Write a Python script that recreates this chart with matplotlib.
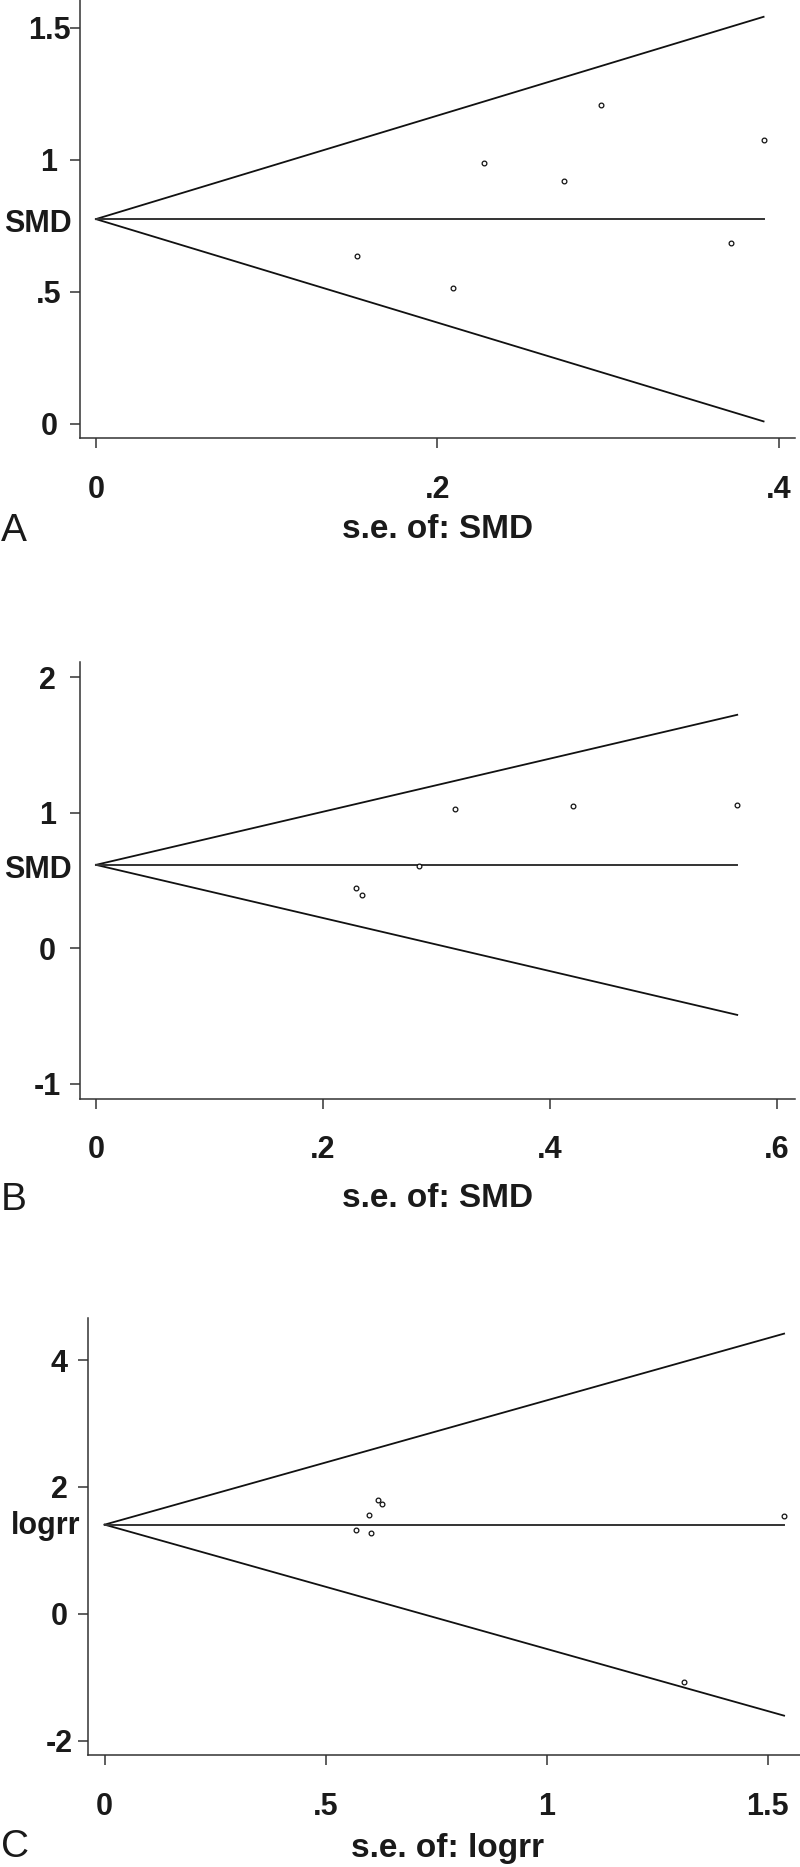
import matplotlib
matplotlib.use("Agg")
import matplotlib.pyplot as plt
import numpy as np

plt.rcParams["font.family"] = ["Liberation Sans", "DejaVu Sans"]

# panel A: SMD
se_a = [0.153, 0.209, 0.227, 0.274, 0.296, 0.372, 0.391]
smd_a = [0.635, 0.515, 0.986, 0.921, 1.209, 0.685, 1.075]
pooled_a = 0.775
xticks_a = [0, 0.2, 0.4]
xlabels_a = ["0", ".2", ".4"]
yticks_a = [0, 0.5, 1, 1.5]
ylabels_a = ["0", ".5", "1", "1.5"]

# panel B: SMD
se_b = [0.229, 0.234, 0.285, 0.316, 0.420, 0.565]
smd_b = [0.440, 0.394, 0.604, 1.024, 1.047, 1.058]
pooled_b = 0.614
xticks_b = [0, 0.2, 0.4, 0.6]
xlabels_b = ["0", ".2", ".4", ".6"]
yticks_b = [-1, 0, 1, 2]
ylabels_b = ["-1", "0", "1", "2"]

# panel C: logrr
se_c = [0.569, 0.599, 0.603, 0.618, 0.628, 1.310, 1.537]
logrr_c = [1.328, 1.558, 1.268, 1.800, 1.724, -1.075, 1.550]
pooled_c = 1.406
xticks_c = [0, 0.5, 1, 1.5]
xlabels_c = ["0", ".5", "1", "1.5"]
yticks_c = [-2, 0, 2, 4]
ylabels_c = ["-2", "0", "2", "4"]

W, H = 800, 1867
fig = plt.figure(figsize=(W / 100, H / 100), dpi=100)


def px_rect(left, top, right, bottom):
    return [left / W, 1 - bottom / H, (right - left) / W, (bottom - top) / H]


def funnel(rect, se, est, pooled, xlim, ylim, xt, xl, yt, yl, ypad,
           ytitle, ytitle_pos, xtitle, xtitle_pos, letter, letter_y):
    ax = fig.add_axes(px_rect(*rect))
    se = np.asarray(se)
    smax = se.max()
    # pseudo 95% limits
    s = np.array([0, smax])
    ax.plot(s, pooled + 1.96 * s, color="#111111", lw=1.3)
    ax.plot(s, pooled - 1.96 * s, color="#111111", lw=1.3)
    ax.plot(s, [pooled, pooled], color="#333333", lw=1.4)
    ax.plot(se, est, "o", ms=3.4, mfc="white", mec="#111111", mew=0.9)

    ax.set_xlim(*xlim)
    ax.set_ylim(*ylim)
    ax.set_xticks(xt)
    ax.set_xticklabels(xl)
    ax.set_yticks(yt)
    ax.set_yticklabels(yl)
    for sp in ["top", "right"]:
        ax.spines[sp].set_visible(False)
    for sp in ["left", "bottom"]:
        ax.spines[sp].set_linewidth(1.1)
        ax.spines[sp].set_color("#333333")
    ax.tick_params(direction="out", length=7.5, width=1.1, color="#333333",
                   labelsize=22)
    ax.tick_params(axis="x", pad=19)
    ax.tick_params(axis="y", pad=ypad)
    for lbl in ax.get_xticklabels() + ax.get_yticklabels():
        lbl.set_fontweight("bold")
        lbl.set_color("#1a1a1a")
    for lbl in ax.get_yticklabels():
        lbl.set_horizontalalignment("center")

    fig.text(ytitle_pos[0] / W, 1 - ytitle_pos[1] / H, ytitle, ha="right",
             va="center", fontsize=22, fontweight="bold", color="#1a1a1a")
    fig.text(xtitle_pos[0] / W, 1 - xtitle_pos[1] / H, xtitle, ha="center",
             va="baseline", fontsize=24, fontweight="bold", color="#1a1a1a")
    fig.text(1 / W, 1 - letter_y / H, letter, ha="left", va="baseline",
             fontsize=28, color="#1a1a1a")
    return ax


funnel((79.5, 0, 795, 438.2), se_a, smd_a, pooled_a,
       (-0.0096, 0.4094), (-0.055, 1.605), xticks_a, xlabels_a,
       yticks_a, ylabels_a, 14.5,
       "SMD", (72, 224), "s.e. of: SMD", (438, 538), "A", 541)

funnel((79.5, 661.6, 795, 1098.6), se_b, smd_b, pooled_b,
       (-0.0145, 0.6159), (-1.111, 2.114), xticks_b, xlabels_b,
       yticks_b, ylabels_b, 15.5,
       "SMD", (72, 870), "s.e. of: SMD", (438, 1207), "B", 1210)

funnel((88.2, 1317.5, 800, 1755), se_c, logrr_c, pooled_c,
       (-0.0371, 1.573), (-2.227, 4.673), xticks_c, xlabels_c,
       yticks_c, ylabels_c, 13.2,
       "logrr", (80, 1526), "s.e. of: logrr", (448, 1857), "C", 1857)

fig.savefig("out.png", dpi=100)
